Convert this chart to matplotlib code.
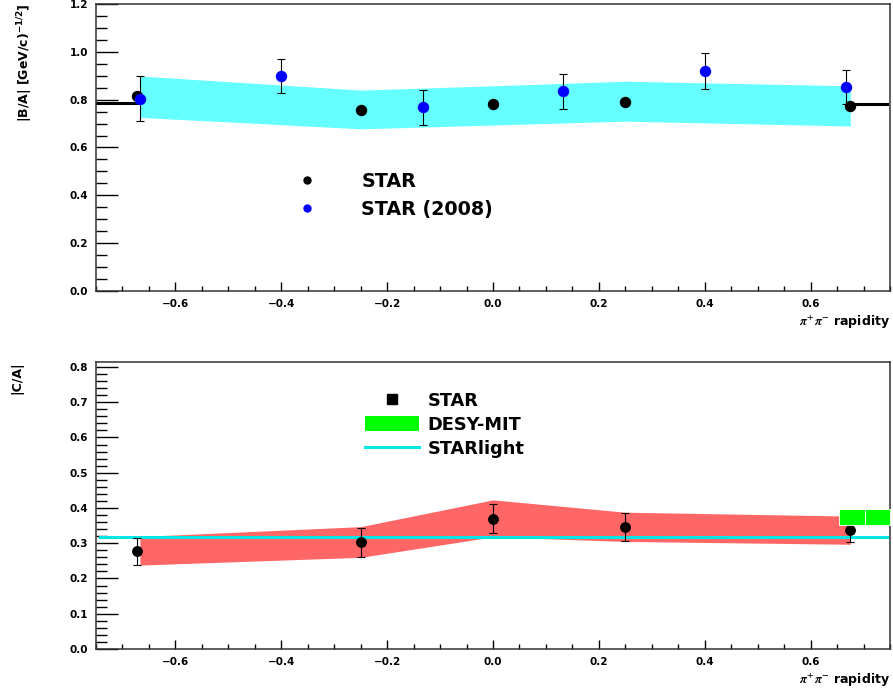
import matplotlib
matplotlib.use("Agg")
import matplotlib.pyplot as plt
from matplotlib.lines import Line2D
from matplotlib.patches import Patch
from matplotlib.ticker import MultipleLocator

plt.rcParams["font.family"] = ["DejaVu Sans"]
plt.rcParams["font.weight"] = "bold"
plt.rcParams["mathtext.rm"] = "DejaVu Sans:bold"
plt.rcParams["mathtext.bf"] = "DejaVu Sans:bold"
plt.rcParams["mathtext.it"] = "DejaVu Sans:bold"

# ---- |B/A| vs rapidity ----
ba_x = [-0.673, -0.25, 0.0, 0.25, 0.675]
ba_y = [0.815, 0.757, 0.780, 0.790, 0.774]
ba_err = [0.008, 0.012, 0.008, 0.008, 0.008]

ba08_x = [-0.667, -0.4, -0.133, 0.133, 0.4, 0.667]
ba08_y = [0.803, 0.899, 0.768, 0.835, 0.920, 0.851]
ba08_lo = [0.092, 0.070, 0.074, 0.073, 0.074, 0.071]
ba08_hi = [0.096, 0.069, 0.074, 0.072, 0.075, 0.071]

ba_band_x = [-0.667, -0.25, 0.0, 0.25, 0.675]
ba_band_lo = [0.726, 0.678, 0.694, 0.710, 0.690]
ba_band_hi = [0.899, 0.840, 0.858, 0.877, 0.858]

ba_edge_left_x = [-0.75, -0.673]
ba_edge_left_y = [0.785, 0.785]
ba_edge_right_x = [0.675, 0.745]
ba_edge_right_y = [0.783, 0.783]

# ---- |C/A| vs rapidity ----
ca_x = [-0.673, -0.25, 0.0, 0.25, 0.675]
ca_y = [0.278, 0.304, 0.370, 0.346, 0.337]
ca_lo = [0.040, 0.042, 0.040, 0.040, 0.033]
ca_hi = [0.037, 0.040, 0.041, 0.041, 0.033]

ca_band_x = [-0.667, -0.25, 0.0, 0.25, 0.675]
ca_band_lo = [0.238, 0.260, 0.318, 0.305, 0.297]
ca_band_hi = [0.319, 0.347, 0.423, 0.388, 0.377]

starlight_x = [-0.742, 0.745]
starlight_y = [0.318, 0.318]

desy_edges = [0.653, 0.703, 0.75]
desy_lo = [0.352, 0.352]
desy_hi = [0.398, 0.398]

W, H = 893, 694
fig = plt.figure(figsize=(W / 100, H / 100), dpi=100)
ax1 = fig.add_axes([96 / W, 1 - 291 / H, (890 - 96) / W, (291 - 4) / H])
ax2 = fig.add_axes([96 / W, 1 - 649 / H, (890 - 96) / W, (649 - 362) / H])

FRAME = "#333333"


def style_axes(ax, ymaj, ymin):
    ax.set_xlim(-0.75, 0.75)
    ax.xaxis.set_major_locator(MultipleLocator(0.2))
    ax.xaxis.set_minor_locator(MultipleLocator(0.05))
    ax.yaxis.set_major_locator(MultipleLocator(ymaj))
    ax.yaxis.set_minor_locator(MultipleLocator(ymin))
    ax.tick_params(which="both", direction="in", top=False, right=False,
                   labelsize=7.5, color="black", width=1.0, pad=5.5)
    ax.tick_params(axis="y", which="major", length=16)
    ax.tick_params(axis="y", which="minor", length=8)
    ax.tick_params(axis="x", which="major", length=6.5)
    ax.tick_params(axis="x", which="minor", length=3.5)
    for lab in ax.get_xticklabels() + ax.get_yticklabels():
        lab.set_fontweight("bold")
    for sp in ax.spines.values():
        sp.set_color(FRAME)
        sp.set_linewidth(1.1)


# top panel
ax1.fill_between(ba_band_x, ba_band_lo, ba_band_hi, color="#66ffff", lw=0, zorder=1)
ax1.plot(ba_edge_left_x, ba_edge_left_y, color="black", lw=2.2, zorder=2)
ax1.plot(ba_edge_right_x, ba_edge_right_y, color="black", lw=2.2, zorder=2)
ax1.errorbar(ba_x, ba_y, yerr=ba_err, fmt="o", color="black", ms=7.2,
             ecolor="black", elinewidth=0.8, capsize=2.8, capthick=0.8, zorder=3)
ax1.errorbar(ba08_x, ba08_y, yerr=[ba08_lo, ba08_hi], fmt="o", color="#0000ff",
             ms=7.2, ecolor="black", elinewidth=0.8, capsize=2.8, capthick=0.8, zorder=4)
ax1.set_ylim(0, 1.2)
style_axes(ax1, 0.2, 0.05)

h_star = Line2D([], [], ls="none", marker="o", color="black", ms=5)
h_star08 = Line2D([], [], ls="none", marker="o", color="#0000ff", ms=5)
fig.legend([h_star, h_star08], ["STAR", "STAR (2008)"], loc="upper left",
           bbox_to_anchor=(278 / W, 1 - 172 / H), bbox_transform=fig.transFigure,
           frameon=False, prop={"weight": "bold", "size": 13.8},
           handlelength=3.0, handletextpad=1.35, labelspacing=0.46,
           borderpad=0, borderaxespad=0)

# bottom panel
ax2.fill_between(ca_band_x, ca_band_lo, ca_band_hi, color="#ff6666", lw=0, zorder=1)
ax2.plot(starlight_x, starlight_y, color="#00e6e6", lw=2.2, zorder=2)
ax2.errorbar(ca_x, ca_y, yerr=[ca_lo, ca_hi], fmt="o", color="black", ms=6.8,
             ecolor="black", elinewidth=0.8, capsize=2.8, capthick=0.8, zorder=3)
ax2.bar(desy_edges[:-1], [h - l for h, l in zip(desy_hi, desy_lo)],
        width=[b - a for a, b in zip(desy_edges[:-1], desy_edges[1:])],
        bottom=desy_lo, align="edge", color="#00ff00", edgecolor="white",
        linewidth=0.6, zorder=4, clip_on=False)
ax2.set_ylim(0, 0.814)
style_axes(ax2, 0.1, 0.02)

h_sq = Line2D([], [], ls="none", marker="s", color="black", ms=7)
h_desy = Patch(facecolor="#00ff00", edgecolor="none")
h_sl = Line2D([], [], color="#00e6e6", lw=2.2)
fig.legend([h_sq, h_desy, h_sl], ["STAR", "DESY-MIT", "STARlight"], loc="upper left",
           bbox_to_anchor=(365 / W, 1 - 392 / H), bbox_transform=fig.transFigure,
           frameon=False, prop={"weight": "bold", "size": 12.8},
           handlelength=3.03, handleheight=0.95, handletextpad=0.5, labelspacing=0.33,
           borderpad=0, borderaxespad=0)

# axis titles, ROOT style: y title at the top, x title at the right
fig.text(25 / W, 1 - 3 / H, r"|B/A| [GeV/c)$^{-1/2}$]", rotation=90,
         ha="center", va="top", fontsize=9, fontweight="bold", math_fontfamily="custom")
fig.text(17 / W, 1 - 361 / H, "|C/A|", rotation=90, ha="center", va="top",
         fontsize=9, fontweight="bold")
for yc in (322, 680):
    fig.text(890 / W, 1 - yc / H, r"$\pi^{+}\pi^{-}$ rapidity", ha="right",
             va="center", fontsize=9, fontweight="bold", math_fontfamily="stix")

fig.savefig("out.png", dpi=100)
